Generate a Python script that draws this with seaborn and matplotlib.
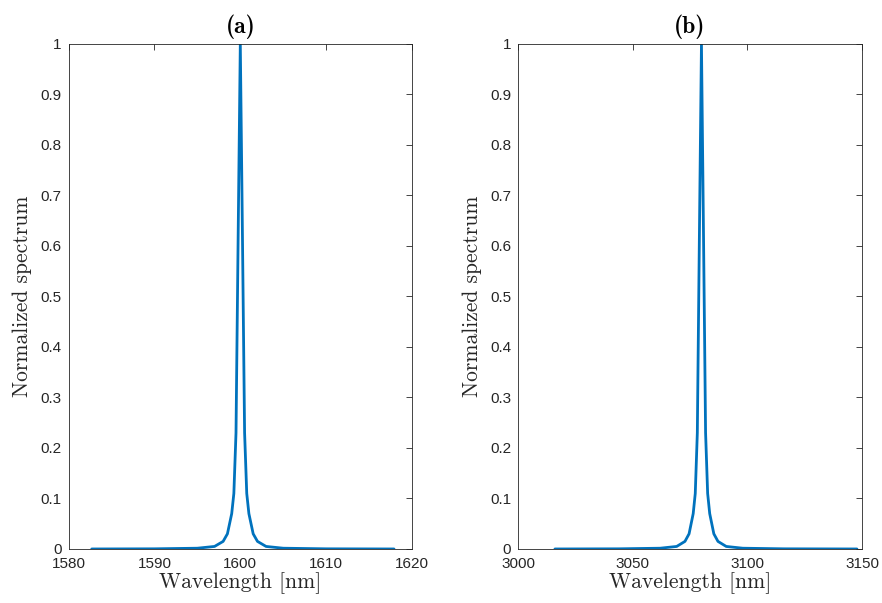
import numpy as np
import pandas as pd
import matplotlib
matplotlib.use("Agg")
import matplotlib.pyplot as plt
import seaborn as sns

# ---- data ----
wl_a = [1582.7, 1590.0, 1595.0, 1597.0, 1598.0, 1598.5, 1599.0, 1599.25, 1599.5, 1599.75, 1600.0,
        1600.25, 1600.5, 1600.75, 1601.0, 1601.5, 1602.0, 1603.0, 1605.0, 1610.0, 1617.9]
sp_a = [0.0, 0.0003, 0.0015, 0.005, 0.015, 0.03, 0.07, 0.11, 0.23, 0.62, 1.0,
        0.62, 0.23, 0.11, 0.07, 0.03, 0.015, 0.005, 0.0015, 0.0003, 0.0]

wl_b = [3016.1, 3044.0, 3062.0, 3069.2, 3072.8, 3074.6, 3076.4, 3077.3, 3078.2, 3079.1, 3080.0,
        3080.9, 3081.8, 3082.7, 3083.6, 3085.4, 3087.2, 3090.8, 3098.0, 3116.0, 3147.8]
sp_b = [0.0, 0.0003, 0.0015, 0.005, 0.015, 0.03, 0.07, 0.11, 0.23, 0.62, 1.0,
        0.62, 0.23, 0.11, 0.07, 0.03, 0.015, 0.005, 0.0015, 0.0003, 0.0]

xticks_a = [1580, 1590, 1600, 1610, 1620]
xticks_b = [3000, 3050, 3100, 3150]
yticks = [0, 0.1, 0.2, 0.3, 0.4, 0.5, 0.6, 0.7, 0.8, 0.9, 1]
titles = ["(a)", "(b)"]

df_a = pd.DataFrame({"Wavelength": wl_a, "Spectrum": sp_a})
df_b = pd.DataFrame({"Wavelength": wl_b, "Spectrum": sp_b})

sns.set_style("white")
plt.rcParams["font.family"] = ["Liberation Sans", "DejaVu Sans"]

fig = plt.figure(figsize=(8.82, 6.03), dpi=100)
ax_a = fig.add_axes([0.0777, 0.0896, 0.3895, 0.8375])
ax_b = fig.add_axes([0.5873, 0.0896, 0.3900, 0.8375])

line_color = "#0072BD"
axis_color = "#262626"

for ax, df, xt, title in [(ax_a, df_a, xticks_a, titles[0]), (ax_b, df_b, xticks_b, titles[1])]:
    sns.lineplot(data=df, x="Wavelength", y="Spectrum", ax=ax, color=line_color,
                 linewidth=2.0, sort=False)
    ax.set_xlim(xt[0], xt[-1])
    ax.set_ylim(0, 1)
    ax.set_xticks(xt)
    ax.set_yticks(yticks)
    ax.set_xticklabels([str(v) for v in xt])
    ax.set_yticklabels([("%g" % v) for v in yticks])
    ax.tick_params(direction="in", length=4, width=0.6, colors=axis_color,
                   labelsize=11, top=True, right=True)
    ax.tick_params(axis="x", pad=6)
    ax.tick_params(axis="y", pad=5)
    for s in ax.spines.values():
        s.set_color(axis_color)
        s.set_linewidth(0.6)
        s.set_visible(True)
    ax.set_xlabel("Wavelength [nm]", family="cmr10", fontsize=15.5, color=axis_color, labelpad=1)
    ax.set_ylabel("Normalized spectrum", family="cmr10", fontsize=15.5, color=axis_color, labelpad=6)
    ax.set_title(title, family="cmb10", fontsize=17, color="black", pad=8)
    ax.grid(False)

fig.savefig("out.png", dpi=100)
